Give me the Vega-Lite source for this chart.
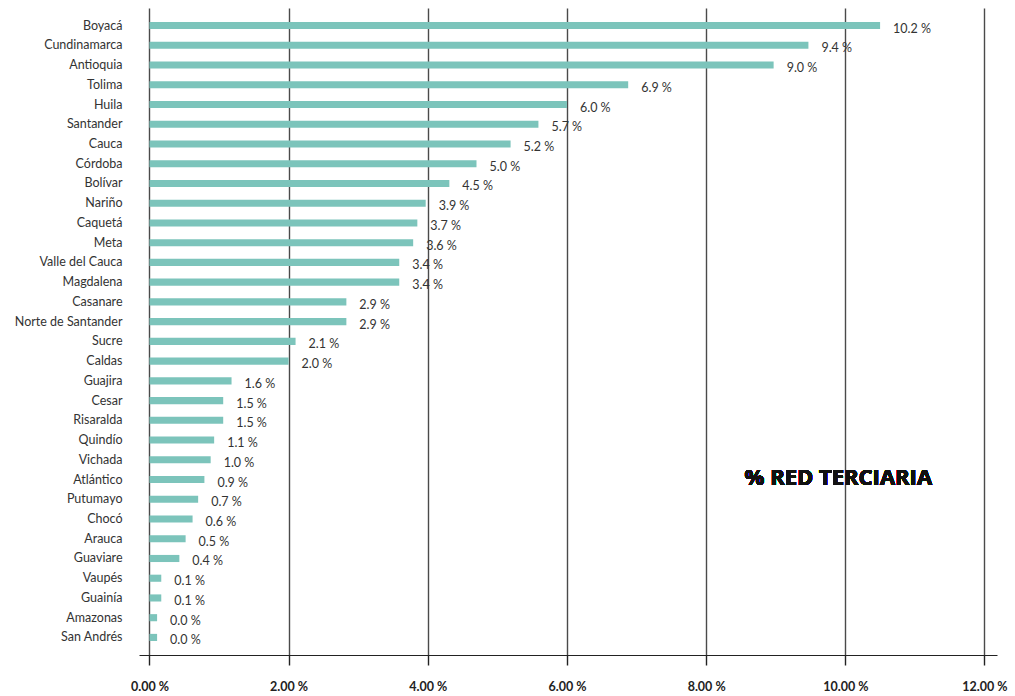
{
  "$schema": "https://vega.github.io/schema/vega-lite/v6.json",
  "autosize": "none",
  "width": 858,
  "height": 647,
  "padding": {"left": 139, "top": 8, "right": 18, "bottom": 41},
  "background": "white",
  "config": {"view": {"stroke": null}, "font": "Lato"},
  "data": {"values": [
    {"dep": "Boyacá", "pct": 10.5, "label": "10.2 %"},
    {"dep": "Cundinamarca", "pct": 9.47, "label": "9.4 %"},
    {"dep": "Antioquia", "pct": 8.97, "label": "9.0 %"},
    {"dep": "Tolima", "pct": 6.88, "label": "6.9 %"},
    {"dep": "Huila", "pct": 6.0, "label": "6.0 %"},
    {"dep": "Santander", "pct": 5.59, "label": "5.7 %"},
    {"dep": "Cauca", "pct": 5.19, "label": "5.2 %"},
    {"dep": "Córdoba", "pct": 4.7, "label": "5.0 %"},
    {"dep": "Bolívar", "pct": 4.31, "label": "4.5 %"},
    {"dep": "Nariño", "pct": 3.97, "label": "3.9 %"},
    {"dep": "Caquetá", "pct": 3.85, "label": "3.7 %"},
    {"dep": "Meta", "pct": 3.79, "label": "3.6 %"},
    {"dep": "Valle del Cauca", "pct": 3.59, "label": "3.4 %"},
    {"dep": "Magdalena", "pct": 3.59, "label": "3.4 %"},
    {"dep": "Casanare", "pct": 2.83, "label": "2.9 %"},
    {"dep": "Norte de Santander", "pct": 2.83, "label": "2.9 %"},
    {"dep": "Sucre", "pct": 2.1, "label": "2.1 %"},
    {"dep": "Caldas", "pct": 2.0, "label": "2.0 %"},
    {"dep": "Guajira", "pct": 1.18, "label": "1.6 %"},
    {"dep": "Cesar", "pct": 1.06, "label": "1.5 %"},
    {"dep": "Risaralda", "pct": 1.06, "label": "1.5 %"},
    {"dep": "Quindío", "pct": 0.93, "label": "1.1 %"},
    {"dep": "Vichada", "pct": 0.88, "label": "1.0 %"},
    {"dep": "Atlántico", "pct": 0.79, "label": "0.9 %"},
    {"dep": "Putumayo", "pct": 0.7, "label": "0.7 %"},
    {"dep": "Chocó", "pct": 0.62, "label": "0.6 %"},
    {"dep": "Arauca", "pct": 0.52, "label": "0.5 %"},
    {"dep": "Guaviare", "pct": 0.43, "label": "0.4 %"},
    {"dep": "Vaupés", "pct": 0.17, "label": "0.1 %"},
    {"dep": "Guainía", "pct": 0.17, "label": "0.1 %"},
    {"dep": "Amazonas", "pct": 0.11, "label": "0.0 %"},
    {"dep": "San Andrés", "pct": 0.11, "label": "0.0 %"}
  ]},
  "encoding": {
    "y": {
      "field": "dep", "type": "nominal", "sort": null,
      "scale": {"paddingInner": 0.64, "paddingOuter": 0.71},
      "axis": {"title": null, "domain": false, "ticks": false, "labelPadding": 17, "labelFontSize": 12.5, "labelColor": "#333333", "labelFont": "Lato"}
    }
  },
  "layer": [
    {
      "mark": {"type": "bar", "color": "#7cc4bb"},
      "encoding": {
        "x": {
          "field": "pct", "type": "quantitative",
          "scale": {"domain": [-0.15, 12.18], "nice": false, "zero": false},
          "axis": {
            "title": null, "values": [0, 2, 4, 6, 8, 10, 12],
            "labelExpr": "format(datum.value, '.2f') + ' %'",
            "grid": true, "gridColor": "#4a4a4a", "gridWidth": 1.4, "gridOpacity": 1,
            "domainColor": "#222222", "domainWidth": 1,
            "tickColor": "#222222", "tickSize": 10, "tickWidth": 1.4,
            "labelFontWeight": "bold", "labelFontSize": 12.5, "labelColor": "#222222",
            "labelPadding": 15, "labelFont": "Lato"
          }
        }
      }
    },
    {
      "mark": {"type": "text", "align": "left", "baseline": "middle", "dx": 13, "dy": 3, "fontSize": 12.5, "color": "#333333", "font": "Lato"},
      "encoding": {
        "x": {"field": "pct", "type": "quantitative"},
        "text": {"field": "label"}
      }
    },
    {
      "mark": {"type": "text", "align": "center", "baseline": "middle", "fontSize": 22, "fontWeight": "bold", "color": "#111111", "font": "Open Sans", "dy": -2},
      "encoding": {
        "x": {"datum": 9.9, "type": "quantitative"},
        "y": {"datum": "Atlántico"},
        "text": {"value": "% RED TERCIARIA"}
      }
    }
  ]
}
